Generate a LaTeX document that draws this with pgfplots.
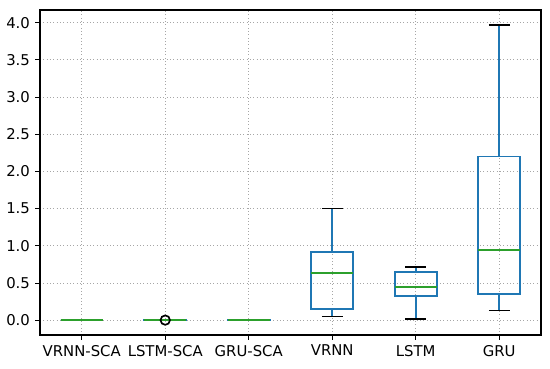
\documentclass[border=0pt]{standalone}
\usepackage{fontspec}
\setmainfont{DejaVu Sans}
\usepackage{pgfplots}
\pgfplotsset{compat=1.18}
\usepgfplotslibrary{statistics}
\definecolor{mblue}{HTML}{1F77B4}
\definecolor{mgreen}{HTML}{2CA02C}
\begin{document}
\fontsize{10.7}{13}\selectfont
\begin{tikzpicture}
\begin{axis}[
  scale only axis,
  width=360.7pt, height=234pt,
  xmin=0.5, xmax=6.5,
  ymin=-0.2, ymax=4.17,
  xtick={1,2,3,4,5,6},
  xticklabels={VRNN-SCA,LSTM-SCA,GRU-SCA,VRNN,LSTM,GRU},
  ytick={0,0.5,1,1.5,2,2.5,3,3.5,4},
  yticklabel style={/pgf/number format/fixed, /pgf/number format/fixed zerofill, /pgf/number format/precision=1},
  /pgf/number format/assume math mode=true,
  tick pos=left,
  tick align=outside,
  major tick length=3.5pt,
  every tick/.style={black, line width=0.6pt},
  axis line style={line width=0.8pt},
  grid=major,
  major grid style={dotted, gray!70, line width=0.6pt},
  boxplot/draw direction=y,
  boxplot/box extend=0.5,
  boxplot/whisker extend=0.25,
  boxplot/draw/lower whisker/.code={%
    \draw[mblue, line width=1.3pt] (boxplot box cs:\pgfplotsboxplotvalue{lower whisker},0.5) -- (boxplot box cs:\pgfplotsboxplotvalue{lower quartile},0.5);
    \draw[black, line width=1.3pt] (boxplot whisker cs:\pgfplotsboxplotvalue{lower whisker},0) -- (boxplot whisker cs:\pgfplotsboxplotvalue{lower whisker},1);
  },
  boxplot/draw/upper whisker/.code={%
    \draw[mblue, line width=1.3pt] (boxplot box cs:\pgfplotsboxplotvalue{upper quartile},0.5) -- (boxplot box cs:\pgfplotsboxplotvalue{upper whisker},0.5);
    \draw[black, line width=1.3pt] (boxplot whisker cs:\pgfplotsboxplotvalue{upper whisker},0) -- (boxplot whisker cs:\pgfplotsboxplotvalue{upper whisker},1);
  },
  boxplot/draw/box/.code={%
    \draw[mblue, line width=1.3pt] (boxplot box cs:\pgfplotsboxplotvalue{lower quartile},0) rectangle (boxplot box cs:\pgfplotsboxplotvalue{upper quartile},1);
  },
  boxplot/draw/median/.code={%
    \draw[mgreen, line width=1.3pt] (boxplot box cs:\pgfplotsboxplotvalue{median},0) -- (boxplot box cs:\pgfplotsboxplotvalue{median},1);
  },
]
\addplot[boxplot prepared={draw position=1, lower whisker=0.0, lower quartile=0.0, median=0.0, upper quartile=0.0, upper whisker=0.0}] coordinates {};
\addplot[boxplot prepared={draw position=2, lower whisker=-0.005, lower quartile=-0.003, median=-0.002, upper quartile=0.0, upper whisker=0.003}, mark=o, mark options={black, line width=1.2pt, scale=1.7}] coordinates {(0,0.0)};
\addplot[boxplot prepared={draw position=3, lower whisker=-0.002, lower quartile=-0.001, median=-0.001, upper quartile=0.0, upper whisker=0.0}] coordinates {};
\addplot[boxplot prepared={draw position=4, lower whisker=0.05, lower quartile=0.15, median=0.63, upper quartile=0.92, upper whisker=1.50}] coordinates {};
\addplot[boxplot prepared={draw position=5, lower whisker=0.01, lower quartile=0.32, median=0.45, upper quartile=0.65, upper whisker=0.71}] coordinates {};
\addplot[boxplot prepared={draw position=6, lower whisker=0.13, lower quartile=0.35, median=0.94, upper quartile=2.20, upper whisker=3.97}] coordinates {};
\end{axis}
\path (current axis.north east) ++(6.5pt,7.2pt);
\path (current axis.south west) ++(-28.8pt,-23.8pt);
\end{tikzpicture}
\end{document}
